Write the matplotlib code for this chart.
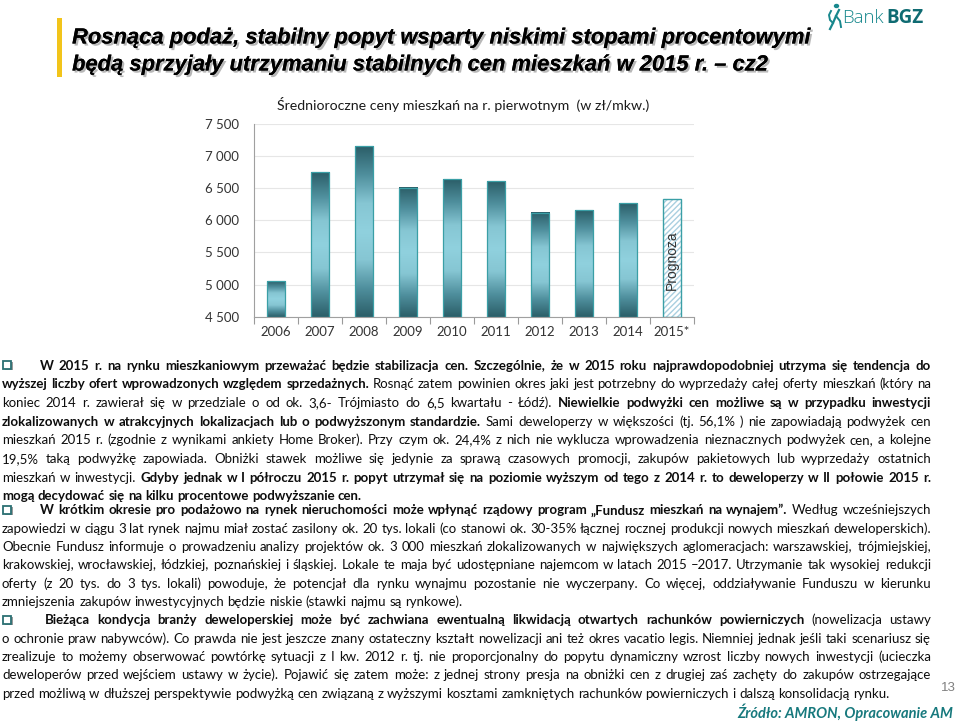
import matplotlib
matplotlib.use('Agg')
import matplotlib.pyplot as plt
import matplotlib.patheffects as pe
from matplotlib.font_manager import FontProperties
from matplotlib.patches import Rectangle, Circle
from matplotlib.lines import Line2D
from matplotlib.colors import LinearSegmentedColormap
import numpy as np

W, H = 959, 721

# --- chart data ---
years = ['2006', '2007', '2008', '2009', '2010', '2011', '2012', '2013', '2014', '2015*']
prices = [5060, 6750, 7150, 6510, 6640, 6610, 6120, 6160, 6270, 6330]
forecast = [False, False, False, False, False, False, False, False, False, True]
yticks = [4500, 5000, 5500, 6000, 6500, 7000, 7500]
ytick_labels = ['4 500', '5 000', '5 500', '6 000', '6 500', '7 000', '7 500']
base = 4500

title_lines = ['Rosnąca podaż, stabilny popyt wsparty niskimi stopami procentowymi',
               'będą sprzyjały utrzymaniu stabilnych cen mieszkań w 2015 r. – cz2']
chart_title = 'Średnioroczne ceny mieszkań na r. pierwotnym  (w zł/mkw.)'

# paragraphs: list of lines, each line = list of (bold, text)
para1 = [
    [(1, 'W 2015 r. na rynku mieszkaniowym przeważać będzie stabilizacja cen. Szczególnie, że w 2015 roku najprawdopodobniej utrzyma się tendencja do')],
    [(1, 'wyższej liczby ofert wprowadzonych względem sprzedażnych.'), (0, 'Rosnąć zatem powinien okres jaki jest potrzebny do wyprzedaży całej oferty mieszkań (który na')],
    [(0, 'koniec 2014 r. zawierał się w przedziale o od ok. 3,6- Trójmiasto do 6,5 kwartału - Łódź).'), (1, 'Niewielkie podwyżki cen możliwe są w przypadku inwestycji')],
    [(1, 'zlokalizowanych w atrakcyjnych lokalizacjach lub o podwyższonym standardzie.'), (0, 'Sami deweloperzy w większości (tj. 56,1% ) nie zapowiadają podwyżek cen')],
    [(0, 'mieszkań 2015 r. (zgodnie z wynikami ankiety Home Broker). Przy czym ok. 24,4% z nich nie wyklucza wprowadzenia nieznacznych podwyżek cen, a kolejne')],
    [(0, '19,5% taką podwyżkę zapowiada. Obniżki stawek możliwe się jedynie za sprawą czasowych promocji, zakupów pakietowych lub wyprzedaży ostatnich')],
    [(0, 'mieszkań w inwestycji.'), (1, 'Gdyby jednak w I półroczu 2015 r. popyt utrzymał się na poziomie wyższym od tego z 2014 r. to deweloperzy w II połowie 2015 r.')],
    [(1, 'mogą decydować się na kilku procentowe podwyższanie cen.')],
]
para2 = [
    [(1, 'W krótkim okresie pro podażowo na rynek nieruchomości może wpłynąć rządowy program „Fundusz mieszkań na wynajem”.'), (0, 'Według wcześniejszych')],
    [(0, 'zapowiedzi w ciągu 3 lat rynek najmu miał zostać zasilony ok. 20 tys. lokali (co stanowi ok. 30-35% łącznej rocznej produkcji nowych mieszkań deweloperskich).')],
    [(0, 'Obecnie Fundusz informuje o prowadzeniu analizy projektów ok. 3 000 mieszkań zlokalizowanych w największych aglomeracjach: warszawskiej, trójmiejskiej,')],
    [(0, 'krakowskiej, wrocławskiej, łódzkiej, poznańskiej i śląskiej. Lokale te maja być udostępniane najemcom w latach 2015 –2017. Utrzymanie tak wysokiej redukcji')],
    [(0, 'oferty (z 20 tys. do 3 tys. lokali) powoduje, że potencjał dla rynku wynajmu pozostanie nie wyczerpany. Co więcej, oddziaływanie Funduszu w kierunku')],
    [(0, 'zmniejszenia zakupów inwestycyjnych będzie niskie (stawki najmu są rynkowe).')],
]
para3 = [
    [(1, 'Bieżąca kondycja branży deweloperskiej może być zachwiana ewentualną likwidacją otwartych rachunków powierniczych'), (0, '(nowelizacja ustawy')],
    [(0, 'o ochronie praw nabywców). Co prawda nie jest jeszcze znany ostateczny kształt nowelizacji ani też okres vacatio legis. Niemniej jednak jeśli taki scenariusz się')],
    [(0, 'zrealizuje to możemy obserwować powtórkę sytuacji z I kw. 2012 r. tj. nie proporcjonalny do popytu dynamiczny wzrost liczby nowych inwestycji (ucieczka')],
    [(0, 'deweloperów przed wejściem ustawy w życie). Pojawić się zatem może: z jednej strony presja na obniżki cen z drugiej zaś zachęty do zakupów ostrzegające')],
    [(0, 'przed możliwą w dłuższej perspektywie podwyżką cen związaną z wyższymi kosztami zamkniętych rachunków powierniczych i dalszą konsolidacją rynku.')],
]
# (lines, first line y, line step, first line x indent)
paragraphs = [(para1, 365, 18.7, 40), (para2, 510, 18.3, 40), (para3, 620, 18.3, 45)]

fig = plt.figure(figsize=(W / 100, H / 100), dpi=100)
fig.patch.set_facecolor('white')


def fx(x):
    return x / W


def fy(y):
    return 1 - y / H


body_family = ['Lato', 'DejaVu Sans']
renderer = fig.canvas.get_renderer()


def tw(s, prop):
    return renderer.get_text_width_height_descent(s, prop, ismath=False)[0]


def props(size):
    return (FontProperties(family=body_family, size=size),
            FontProperties(family=body_family, size=size, weight='bold'))


def words_of(line):
    out = []
    for b, t in line:
        for w in t.split():
            out.append((b, w))
    return out


# fit body size to the justified width
x_right = 931
x_left = 2
p0 = props(10)
scale = 12.0
for lines, y0, step, ind in paragraphs:
    for i, line in enumerate(lines[:-1]):
        ws = words_of(line)
        start = ind if i == 0 else x_left
        nat = sum(tw(w, p0[b]) for b, w in ws) + (len(ws) - 1) * (tw('a a', p0[0]) - tw('aa', p0[0]))
        scale = min(scale, 10.0 * (x_right - start) / nat)
body_size = scale * 0.998
preg, pbold = props(body_size)
space = tw('a a', preg) - tw('aa', preg)

for lines, y0, step, ind in paragraphs:
    for i, line in enumerate(lines):
        ws = words_of(line)
        start = ind if i == 0 else x_left
        widths = [tw(w, pbold if b else preg) for b, w in ws]
        last = (i == len(lines) - 1)
        gap = space if last else (x_right - start - sum(widths)) / (len(ws) - 1)
        y = y0 + i * step + 4.5
        x = start
        for (b, w), wd in zip(ws, widths):
            fig.text(fx(x), fy(y), w, fontproperties=pbold if b else preg,
                     color='#0d0d0d', ha='left', va='baseline')
            x += wd + gap
    # bullet
    by = y0
    fig.patches.append(Rectangle((fx(4.5), fy(by + 5.0)), 8 / W, 8 / H, transform=fig.transFigure,
                                 facecolor='#9a9a9a', edgecolor='none', figure=fig))
    fig.patches.append(Rectangle((fx(3), fy(by + 3.5)), 8 / W, 8 / H, transform=fig.transFigure,
                                 facecolor='white', edgecolor='#2b6f73', lw=1.3, figure=fig))

# --- title ---
fig.patches.append(Rectangle((fx(57), fy(77)), 5 / W, 59 / H, transform=fig.transFigure,
                             facecolor='#f2c41a', edgecolor='none', figure=fig))
tprop = FontProperties(family=['Liberation Sans', 'DejaVu Sans'], weight='bold', style='italic', size=10)
tsize = 10 * 740 / tw(title_lines[0], tprop)
shadow = [pe.withSimplePatchShadow(offset=(1.5, -1.5), shadow_rgbFace='#8a8a8a', alpha=0.6), pe.Normal()]
for i, t in enumerate(title_lines):
    fig.text(fx(72), fy(38 + 27 * i), t, family=['Liberation Sans', 'DejaVu Sans'], weight='bold',
             style='italic', size=tsize, color='black', ha='left', va='center', path_effects=shadow)

# --- logo ---
teal = '#18888d'
fig.add_artist(Circle((fx(836.5), fy(6)), 2.0 / W, transform=fig.transFigure, color=teal))
fig.add_artist(Line2D([fx(839), fx(836), fx(833), fx(830)], [fy(10), fy(16), fy(23), fy(29)],
                      transform=fig.transFigure, color=teal, lw=1.6))
fig.add_artist(Line2D([fx(831), fx(829), fx(830), fx(833)], [fy(11), fy(15), fy(20), fy(23)],
                      transform=fig.transFigure, color=teal, lw=1.4))
fig.add_artist(Line2D([fx(836), fx(840), fx(841)], [fy(16), fy(21), fy(27)],
                      transform=fig.transFigure, color=teal, lw=1.4))
lprop = FontProperties(family=['Open Sans', 'DejaVu Sans'], size=13.5, weight='light')
fig.text(fx(842), fy(18), 'Bank', fontproperties=lprop, color=teal, ha='left', va='center')
fig.text(fx(842) + (tw('Bank', lprop) + 3) / W, fy(18), 'BGZ',
         family=['Open Sans', 'DejaVu Sans'], size=13.5, weight='bold', color='#0f6b72',
         ha='left', va='center')

# --- chart ---
chart_family = ['Lato', 'DejaVu Sans']
ax = fig.add_axes([fx(254), fy(316.7), 440 / W, 192.7 / H])
xpos = np.arange(len(years))
heights = [p - base for p in prices]
edge = '#3a9fa6'
cmap = LinearSegmentedColormap.from_list('bar', ['#2b5e68', '#4f8f9d', '#86c6d3', '#90d1de', '#86c6d3', '#4f8f9d', '#2b5e68'])
grad = np.linspace(0, 1, 256).reshape(-1, 1)
for xi, hgt, fc in zip(xpos, heights, forecast):
    if fc:
        ax.bar(xi, hgt, bottom=base, width=0.43, color='white', edgecolor='#a9cfe0', hatch='//////',
               linewidth=0, zorder=2)
        ax.bar(xi, hgt, bottom=base, width=0.43, fill=False, edgecolor=edge, linewidth=1.0, zorder=3)
        ax.text(xi, base + 880, 'Prognoza', rotation=90, ha='center', va='center',
                family=['Liberation Sans', 'DejaVu Sans'], size=10, color='#333333', zorder=4)
    else:
        b = ax.bar(xi, hgt, bottom=base, width=0.43, fill=False, edgecolor=edge, linewidth=0.9, zorder=3)[0]
        ax.imshow(grad, extent=[b.get_x(), b.get_x() + b.get_width(), base, base + hgt],
                  cmap=cmap, aspect='auto', zorder=2, interpolation='bilinear')

ax.set_xlim(-0.5, len(years) - 0.5)
ax.set_ylim(yticks[0], yticks[-1])
ax.set_aspect('auto')
ax.set_yticks(yticks)
ax.set_yticklabels(ytick_labels)
ax.set_xticks(xpos)
ax.set_xticklabels(years)
ax.set_xticks(np.arange(len(years) + 1) - 0.5, minor=True)
ax.tick_params(axis='y', length=0, pad=11, labelsize=9.5, labelcolor='#333333')
ax.tick_params(axis='x', which='major', length=0, pad=7, labelsize=9.5, labelcolor='#333333')
ax.tick_params(axis='x', which='minor', length=5, color='#9a9a9a', width=0.8)
for lab in ax.get_xticklabels() + ax.get_yticklabels():
    lab.set_family(chart_family)
ax.grid(axis='y', color='#e6e6e6', lw=0.8, zorder=0)
ax.set_axisbelow(True)
for s in ['top', 'right']:
    ax.spines[s].set_visible(False)
ax.spines['left'].set_color('#a0a0a0')
ax.spines['bottom'].set_color('#a0a0a0')
ax.set_facecolor('none')

fig.text(fx(463), fy(105), chart_title, family=chart_family, size=10.2, color='#1a1a1a',
         ha='center', va='center')

# --- footer ---
fig.text(fx(948), fy(688), '13', family=['Liberation Sans', 'DejaVu Sans'], size=9.5, color='#7f7f7f',
         ha='center', va='center')
fig.text(fx(953), fy(712), 'Źródło: AMRON, Opracowanie AM', family=['Lato', 'DejaVu Sans'], weight='bold',
         style='italic', size=10.5, color='#17797d', ha='right', va='center')

fig.savefig('out.png', dpi=100, facecolor='white')
